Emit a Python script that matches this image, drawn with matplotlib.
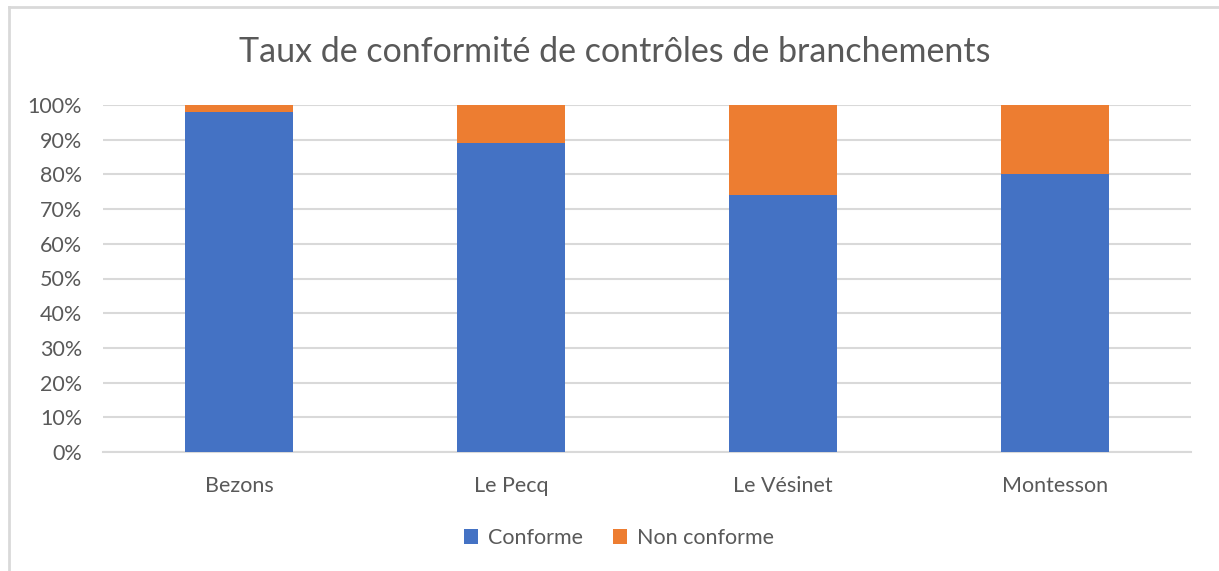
import matplotlib
matplotlib.use("Agg")
import matplotlib.pyplot as plt
from matplotlib.lines import Line2D
from matplotlib.patches import Patch

categories = ["Bezons", "Le Pecq", "Le Vésinet", "Montesson"]
conforme = [0.98, 0.89, 0.74, 0.80]
non_conforme = [0.02, 0.11, 0.26, 0.20]
series_names = ["Conforme", "Non conforme"]
title = "Taux de conformité de contrôles de branchements"
yticks = [0, 0.1, 0.2, 0.3, 0.4, 0.5, 0.6, 0.7, 0.8, 0.9, 1.0]

BLUE = "#4472C4"
ORANGE = "#ED7D31"
TXT = "#595959"
GRID = "#D9D9D9"

plt.rcParams['font.family'] = ['Lato', 'DejaVu Sans']

W, H = 1219, 571
fig = plt.figure(figsize=(W / 100, H / 100), dpi=100)
fig.patch.set_facecolor("white")

# outer frame (top and left edges)
fig.add_artist(Line2D([8.5 / W, 1.0], [1 - 6.5 / H, 1 - 6.5 / H], color=GRID, lw=2, transform=fig.transFigure))
fig.add_artist(Line2D([9 / W, 9 / W], [0, 1 - 6.5 / H], color=GRID, lw=2, transform=fig.transFigure))

left, right, top, bottom = 103, 1191, 105, 452
ax = fig.add_axes([left / W, 1 - bottom / H, (right - left) / W, (bottom - top) / H])

x = list(range(len(categories)))
ax.bar(x, conforme, width=0.4, color=BLUE, zorder=3)
ax.bar(x, non_conforme, bottom=conforme, width=0.4, color=ORANGE, zorder=3)

ax.set_xlim(-0.5, len(categories) - 0.5)
ax.set_ylim(0, 1.0)
ax.set_yticks(yticks)
ax.set_yticklabels([f"{int(round(v * 100))}%" for v in yticks])
ax.set_xticks(x)
ax.set_xticklabels(categories)
ax.tick_params(axis='both', length=0, colors=TXT, labelsize=15.5)
ax.tick_params(axis='x', pad=17)
ax.tick_params(axis='y', pad=15)
ax.grid(axis='y', color=GRID, lw=1.5, zorder=0)
for s in ax.spines.values():
    s.set_visible(False)
ax.spines['bottom'].set_visible(True)
ax.spines['bottom'].set_color(GRID)
ax.spines['bottom'].set_linewidth(1.5)

fig.text(615 / W, 1 - 52 / H, title, ha='center', va='center', fontsize=24.5, color=TXT)

handles = [Patch(facecolor=BLUE), Patch(facecolor=ORANGE)]
fig.legend(handles, series_names, loc='center', bbox_to_anchor=(619 / W, 1 - 538 / H),
           ncol=2, frameon=False, fontsize=15.5, labelcolor=TXT,
           handlelength=0.65, handleheight=0.65, handletextpad=0.45, columnspacing=1.4)

fig.savefig("out.png", dpi=100, facecolor="white")
